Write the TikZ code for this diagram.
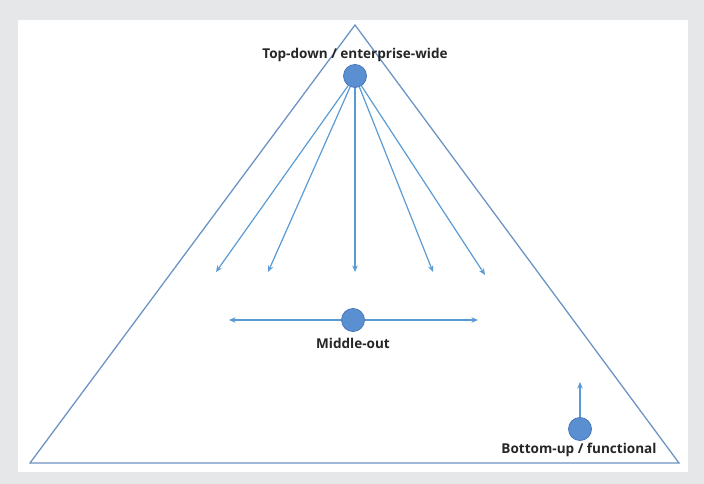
\documentclass[tikz,border=0pt]{standalone}
\usepackage{fontspec}
\setmainfont{Open Sans}
\usetikzlibrary{arrows.meta}
\definecolor{bggray}{HTML}{E6E7E8}
\definecolor{triblue}{HTML}{6E93C4}
\definecolor{arrblue}{HTML}{5B9BD5}
\definecolor{dotfill}{HTML}{5A8FD2}
\definecolor{dotline}{HTML}{4577B8}
\definecolor{txt}{HTML}{262626}
\tikzset{
  dot/.style={circle, fill=dotfill, draw=dotline, line width=0.8pt, minimum size=23bp, inner sep=0pt},
  lbl/.style={font=\bfseries\fontsize{13.6}{15}\selectfont, text=txt, inner sep=0pt},
  arr/.style={draw=arrblue, line width=1.2pt, -{Stealth[length=6.5bp,width=5.5bp]}},
  tri/.style={draw=triblue, line width=1.3pt, line join=miter}
}
\begin{document}
\begin{tikzpicture}[x=1bp,y=-1bp]
\useasboundingbox (0,0) rectangle (704,484);
\fill[bggray] (0,0) rectangle (704,484);
\fill[white] (18,20) rectangle (688,472);
\coordinate (apex) at (355,25);
\coordinate (bl) at (30,463);
\coordinate (br) at (679,463);
\draw[tri] (apex) -- (br) -- (bl) -- cycle;
% top
\node[lbl] (ttop) at (355,55) {Top-down / enterprise-wide};
\node[dot] (top) at (355,76) {};
\coordinate (a1) at (216,272);
\coordinate (a2) at (268,272);
\coordinate (a3) at (355,272);
\coordinate (a4) at (433,272);
\coordinate (a5) at (485,275);
\foreach \t in {a1,a2,a3,a4,a5} \draw[arr] (top) -- (\t);
% middle
\node[dot] (mid) at (353,320) {};
\node[lbl] (tmid) at (353,343) {Middle-out};
\coordinate (ml) at (229,320);
\coordinate (mr) at (478,320);
\draw[arr] (mid) -- (ml);
\draw[arr] (mid) -- (mr);
% bottom
\node[dot] (bot) at (580,429) {};
\node[lbl] (tbot) at (579,450) {Bottom-up / functional};
\coordinate (bu) at (580,382);
\draw[arr] (bot) -- (bu);
\end{tikzpicture}
\end{document}
